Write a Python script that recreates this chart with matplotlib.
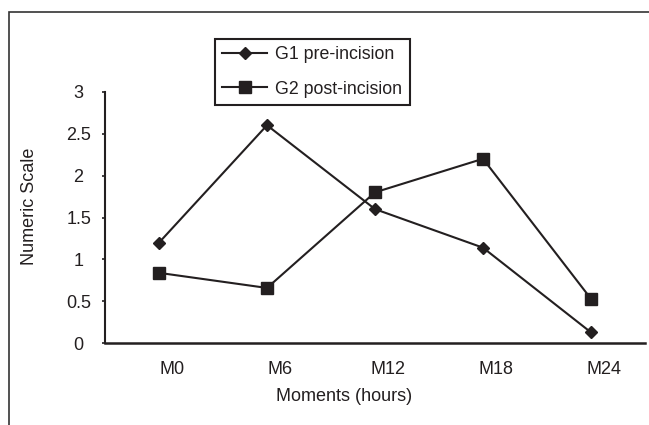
import matplotlib
matplotlib.use("Agg")
import matplotlib.pyplot as plt
import matplotlib.transforms as mtransforms
from matplotlib.patches import Rectangle

plt.rcParams['font.family'] = ['Liberation Sans', 'DejaVu Sans']

moments = ['M0', 'M6', 'M12', 'M18', 'M24']
g1_pre = [1.2, 2.6, 1.6, 1.14, 0.13]
g2_post = [0.84, 0.66, 1.8, 2.2, 0.53]
yticks = [0, 0.5, 1, 1.5, 2, 2.5, 3]
ytick_labels = ['0', '0.5', '1', '1.5', '2', '2.5', '3']

ink = '#231f20'
W, H = 649, 425

fig = plt.figure(figsize=(6.49, 4.25), dpi=100)
ax = fig.add_axes([105 / W, 1 - 343.3 / H, 540 / W, (343.3 - 91.7) / H])

x = list(range(len(moments)))
ax.plot(x, g1_pre, color=ink, lw=1.5, marker='D', ms=6.2, label='G1 pre-incision')
ax.plot(x, g2_post, color=ink, lw=1.5, marker='s', ms=8.6, label='G2 post-incision')

ax.set_xlim(-0.5, 4.5)
ax.set_ylim(0, 3)
ax.set_yticks(yticks)
ax.set_yticklabels(ytick_labels)
ax.set_xticks(x)
ax.set_xticklabels(moments)

for s in ['top', 'right']:
    ax.spines[s].set_visible(False)
ax.spines['left'].set_linewidth(1.5)
ax.spines['bottom'].set_linewidth(1.8)
ax.spines['left'].set_color(ink)
ax.spines['bottom'].set_color(ink)

ax.tick_params(axis='y', length=2, width=1.2, direction='out', pad=17, labelsize=13, colors=ink)
ax.tick_params(axis='x', length=0, pad=13, labelsize=13, colors=ink)
for lab in ax.get_yticklabels():
    lab.set_horizontalalignment('center')
# category labels sit a little right of the markers
shift = mtransforms.ScaledTranslation(0.13, 0, fig.dpi_scale_trans)
for lab in ax.get_xticklabels():
    lab.set_transform(lab.get_transform() + shift)

fig.text(344.5 / W, 1 - 396.7 / H, 'Moments (hours)', ha='center', va='center', fontsize=13, color=ink)
fig.text(30 / W, 1 - 206.7 / H, 'Numeric Scale', ha='center', va='center', rotation=90, fontsize=13, color=ink)

leg = ax.legend(loc='upper left', bbox_to_anchor=(215 / W, 1 - 39 / H), bbox_transform=fig.transFigure,
                borderaxespad=0, fontsize=12.8, handlelength=2.55, handletextpad=0.45,
                labelspacing=0.98, borderpad=0.4, fancybox=False, framealpha=1)
leg.get_frame().set_edgecolor(ink)
leg.get_frame().set_linewidth(1.5)
for t in leg.get_texts():
    t.set_color(ink)

# outer frame, cut off at right and bottom like the source image
fig.patches.append(Rectangle((9 / W, -0.2), 1.2, 1 - 11.5 / H + 0.2, transform=fig.transFigure,
                             fill=False, edgecolor='#333333', lw=1.2))

fig.savefig('out.png', dpi=100)
